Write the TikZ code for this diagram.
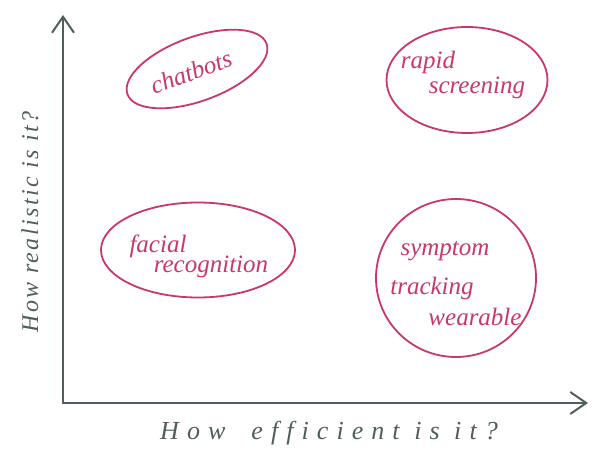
\documentclass[tikz,border=0pt]{standalone}
\usepackage{fontspec}
\newfontfamily\hand{Liberation Serif}
\newfontfamily\handmid[LetterSpace=10]{Liberation Serif}
\newfontfamily\handwide[LetterSpace=31]{Liberation Serif}
\usetikzlibrary{arrows.meta,shapes.geometric}
\definecolor{pinkink}{RGB}{201,56,104}
\definecolor{axisgray}{RGB}{80,94,93}
\begin{document}
\begin{tikzpicture}[x=1pt,y=-1pt,
  axisline/.style={draw=axisgray,line width=2pt,line cap=round,
    -{Straight Barb[length=16pt,width=22pt,line width=2pt]}},
  bubble/.style={draw=pinkink,line width=1.8pt,ellipse,inner sep=0pt},
  inktext/.style={text=pinkink,font=\hand\itshape\fontsize{25}{27}\selectfont,inner sep=0pt},
  axistext/.style={text=axisgray,inner sep=0pt}]
\useasboundingbox[fill=white] (0,0) rectangle (595,470);
% axes
\coordinate (O) at (63,403);
\coordinate (ytop) at (63,15);
\coordinate (xend) at (588,403);
\draw[axisline] (O) -- (ytop);
\draw[axisline] (O) -- (xend);
\node[axistext,font=\handwide\itshape\fontsize{26}{28}\selectfont] (xlab) at (329,433) {How\hspace{26pt}efficient is it?};
\node[axistext,font=\handmid\itshape\fontsize{24}{26}\selectfont,rotate=90] (ylab) at (30,222) {How realistic is it?};
% bubbles
\node[bubble,minimum width=148pt,minimum height=64pt,rotate=20] (b1) at (197,69) {};
\node[inktext,rotate=20] (t1) at (191,72) {chatbots};
\node[bubble,minimum width=161pt,minimum height=106pt] (b2) at (467,80) {};
\node[inktext] (t2a) at (428,62) {rapid};
\node[inktext] (t2b) at (477,88) {screening};
\node[bubble,minimum width=194pt,minimum height=95pt] (b3) at (198,250) {};
\node[inktext] (t3a) at (158,246) {facial};
\node[inktext] (t3b) at (211,267) {recognition};
\node[bubble,minimum width=160pt,minimum height=158pt] (b4) at (456,278) {};
\node[inktext] (t4a) at (445,251) {symptom};
\node[inktext] (t4b) at (432,288) {tracking};
\node[inktext] (t4c) at (475,317) {wearable};
\end{tikzpicture}
\end{document}
